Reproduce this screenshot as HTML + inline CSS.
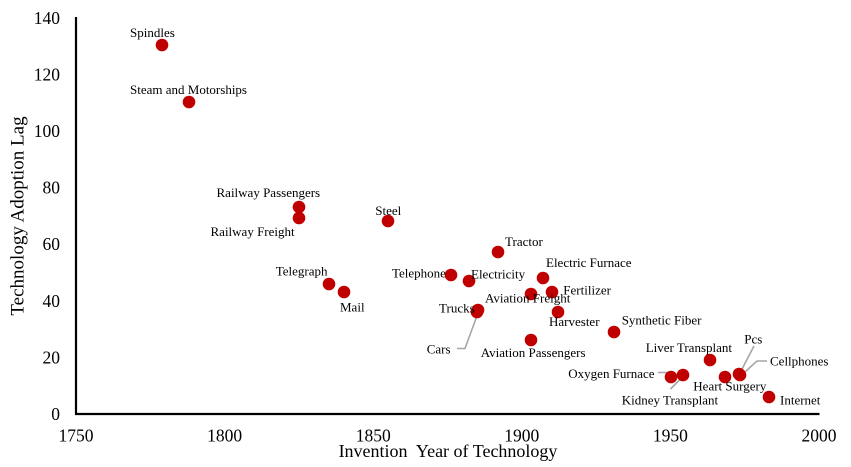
<!DOCTYPE html>
<html>
<head>
<meta charset="utf-8">
<style>
  html, body { margin:0; padding:0; background:#ffffff; }
  svg { display:block; }
  text { font-family: "Liberation Serif", "Times New Roman", serif; fill:#000; }
  .tick { font-size:17.5px; }
  .lbl { font-size:13px; }
  .ttl { font-size:18px; white-space:pre; }
</style>
</head>
<body>
<svg width="851" height="467" viewBox="0 0 851 467" xmlns="http://www.w3.org/2000/svg">
  <rect x="0" y="0" width="851" height="467" fill="#ffffff"/>

  <!-- Axes -->
  <line x1="76" y1="17" x2="76" y2="415" stroke="#000" stroke-width="2.2"/>
  <line x1="75" y1="414" x2="819.5" y2="414" stroke="#000" stroke-width="2.2"/>

  <!-- Y tick labels -->
  <g class="tick" text-anchor="end">
    <text x="60" y="420">0</text>
    <text x="60" y="363.4">20</text>
    <text x="60" y="306.8">40</text>
    <text x="60" y="250.2">60</text>
    <text x="60" y="193.6">80</text>
    <text x="60" y="137">100</text>
    <text x="60" y="80.4">120</text>
    <text x="60" y="23.8">140</text>
  </g>

  <!-- X tick labels -->
  <g class="tick" text-anchor="middle">
    <text x="76" y="441.5">1750</text>
    <text x="224.6" y="441.5">1800</text>
    <text x="373.2" y="441.5">1850</text>
    <text x="521.8" y="441.5">1900</text>
    <text x="670.4" y="441.5">1950</text>
    <text x="819" y="441.5">2000</text>
  </g>

  <!-- Axis titles -->
  <text class="ttl" x="448" y="457" text-anchor="middle">Invention  Year of Technology</text>
  <text x="0" y="0" font-size="19" text-anchor="middle" transform="translate(23.5,216) rotate(-90)">Technology Adoption Lag</text>

  <!-- Leader lines -->
  <g stroke="#a6a6a6" stroke-width="1.6" fill="none">
    <polyline points="457,348.5 465,348.5 478,313"/>
    <polyline points="754,346 741.5,370"/>
    <polyline points="767,361 757,361 745.5,371.5"/>
    <polyline points="658,372.5 666,372.5 670,376"/>
    <polyline points="682.5,377 670.5,389"/>
  </g>

  <!-- Data points -->
  <g fill="#c00000">
    <circle cx="162" cy="45" r="6.3"/>
    <circle cx="189" cy="102" r="6.3"/>
    <circle cx="299" cy="207" r="6.3"/>
    <circle cx="299" cy="218" r="6.3"/>
    <circle cx="388" cy="221" r="6.3"/>
    <circle cx="329" cy="284" r="6.3"/>
    <circle cx="344" cy="292" r="6.3"/>
    <circle cx="498" cy="252" r="6.3"/>
    <circle cx="451" cy="275" r="6.3"/>
    <circle cx="469" cy="281" r="6.3"/>
    <circle cx="543" cy="278" r="6.3"/>
    <circle cx="531" cy="294" r="6.3"/>
    <circle cx="552" cy="292" r="6.3"/>
    <circle cx="478" cy="310" r="6.3"/>
    <circle cx="477" cy="312" r="6.3"/>
    <circle cx="558" cy="312" r="6.3"/>
    <circle cx="614" cy="332" r="6.3"/>
    <circle cx="531" cy="340" r="6.3"/>
    <circle cx="710" cy="360" r="6.3"/>
    <circle cx="671" cy="377" r="6.3"/>
    <circle cx="683" cy="375" r="6.3"/>
    <circle cx="725" cy="377" r="6.3"/>
    <circle cx="739" cy="374" r="6.3"/>
    <circle cx="740" cy="375" r="6.3"/>
    <circle cx="769" cy="397" r="6.3"/>
  </g>

  <!-- Data labels -->
  <g class="lbl">
    <text x="130" y="37">Spindles</text>
    <text x="130" y="94">Steam and Motorships</text>
    <text x="216.5" y="197">Railway Passengers</text>
    <text x="210.5" y="236">Railway Freight</text>
    <text x="375.3" y="215">Steel</text>
    <text x="275.7" y="275.5">Telegraph</text>
    <text x="340" y="311.5">Mail</text>
    <text x="505" y="246">Tractor</text>
    <text x="392" y="277.5">Telephone</text>
    <text x="471" y="278.5">Electricity</text>
    <text x="546" y="267">Electric Furnace</text>
    <text x="485" y="302.5">Aviation Freight</text>
    <text x="563.3" y="294.3">Fertilizer</text>
    <text x="439" y="312.6">Trucks</text>
    <text x="549" y="326">Harvester</text>
    <text x="426.7" y="353.6">Cars</text>
    <text x="480.7" y="357">Aviation Passengers</text>
    <text x="621.7" y="324.6">Synthetic Fiber</text>
    <text x="645.7" y="352">Liver Transplant</text>
    <text x="744.3" y="343.6">Pcs</text>
    <text x="770" y="365.3">Cellphones</text>
    <text x="568.3" y="378">Oxygen Furnace</text>
    <text x="693.3" y="390.3">Heart Surgery</text>
    <text x="621.7" y="404.6">Kidney Transplant</text>
    <text x="780" y="404.6">Internet</text>
  </g>
</svg>
</body>
</html>
